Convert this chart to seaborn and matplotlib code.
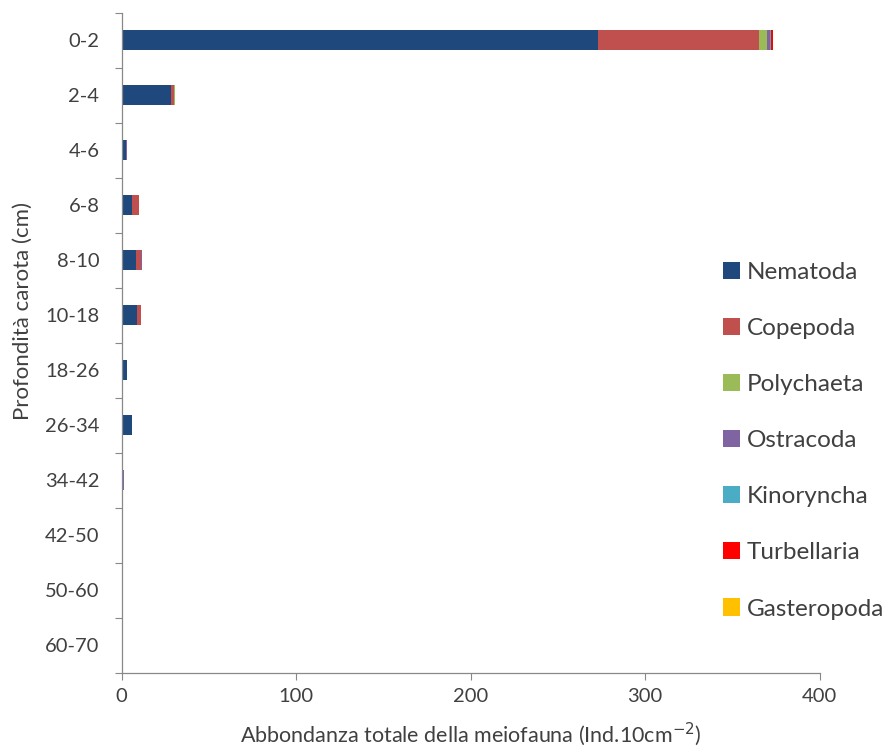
import numpy as np
import pandas as pd
import matplotlib
matplotlib.use("Agg")
import matplotlib.pyplot as plt
import seaborn as sns
from matplotlib.patches import Patch

# Depth intervals of the core (cm)
depths = ["0-2", "2-4", "4-6", "6-8", "8-10", "10-18", "18-26",
          "26-34", "34-42", "42-50", "50-60", "60-70"]

# Abundance per taxon (ind. 10 cm^-2)
nematoda    = [273, 28, 2.5, 6, 8, 9, 3, 6, 0.8, 0, 0.6, 0]
copepoda    = [92, 2, 0, 4, 3, 2, 0, 0, 0, 0, 0, 0]
polychaeta  = [5, 0.3, 0, 0, 0, 0, 0, 0, 0, 0, 0, 0]
ostracoda   = [1.5, 0, 0.5, 0, 0.5, 0.3, 0, 0, 0.3, 0, 0.3, 0]
kinorhyncha = [0.5, 0, 0, 0, 0, 0, 0, 0, 0, 0, 0, 0]
turbellaria = [1, 0.5, 0, 0, 0, 0, 0, 0, 0, 0, 0, 0]
gasteropoda = [0, 0, 0, 0, 0, 0, 0, 0, 0, 0, 0, 0]

taxa = ["Nematoda", "Copepoda", "Polychaeta", "Ostracoda",
        "Kinoryncha", "Turbellaria", "Gasteropoda"]
series = [nematoda, copepoda, polychaeta, ostracoda,
          kinorhyncha, turbellaria, gasteropoda]
colors = ["#1F497D", "#C0504D", "#9BBB59", "#8064A2",
          "#4BACC6", "#FF0000", "#FFC000"]

sns.set_theme(style="white")
plt.rcParams["font.family"] = ["Lato", "DejaVu Sans"]

text_color = "#404040"

fig = plt.figure(figsize=(8.88, 7.47), dpi=100)
ax = fig.add_axes([0.137, 0.0997, 0.786, 0.8833])

# Stacked horizontal bars: draw cumulative totals from the outermost layer inward
cum = np.cumsum(np.array(series, dtype=float), axis=0)
for i in range(len(taxa) - 1, -1, -1):
    df = pd.DataFrame({"depth": depths, "value": cum[i]})
    sns.barplot(data=df, x="value", y="depth", orient="h", color=colors[i],
                saturation=1, width=0.37, ax=ax, linewidth=0)

ax.set_xlim(0, 400)
ax.set_ylim(len(depths) - 0.5, -0.5)
ax.set_xticks([0, 100, 200, 300, 400])

# Category ticks sit between depth intervals
ax.set_yticks(np.arange(len(depths)))
ax.set_yticklabels(depths)
ax.set_yticks(np.arange(-0.5, len(depths), 1), minor=True)
ax.tick_params(axis="y", which="major", length=0, pad=16, labelsize=14.5,
               labelcolor=text_color)
ax.tick_params(axis="y", which="minor", length=5, width=0.8, color="#888888",
               left=True, direction="out")
ax.tick_params(axis="x", length=5, width=0.8, color="#888888", bottom=True,
               direction="out", pad=6, labelsize=14.5, labelcolor=text_color)

for s in ["top", "right"]:
    ax.spines[s].set_visible(False)
for s in ["left", "bottom"]:
    ax.spines[s].set_color("#888888")
    ax.spines[s].set_linewidth(0.9)

ax.set_xlabel("Abbondanza totale della meiofauna (Ind.10cm$^{-2}$)",
              fontsize=15.5, color=text_color)
ax.set_ylabel("Profondità carota (cm)", fontsize=16, color=text_color)
ax.xaxis.set_label_coords(0.5, -0.072)
ax.yaxis.set_label_coords(-0.127, 0.548)

handles = [Patch(facecolor=c, edgecolor="none") for c in colors]
fig.legend(handles, taxa, loc="upper left", bbox_to_anchor=(0.789, 0.678),
           frameon=False, fontsize=17.5, handlelength=0.7, handleheight=0.7,
           handletextpad=0.3, labelspacing=1.44, labelcolor=text_color)

fig.savefig("out.png", dpi=100)
